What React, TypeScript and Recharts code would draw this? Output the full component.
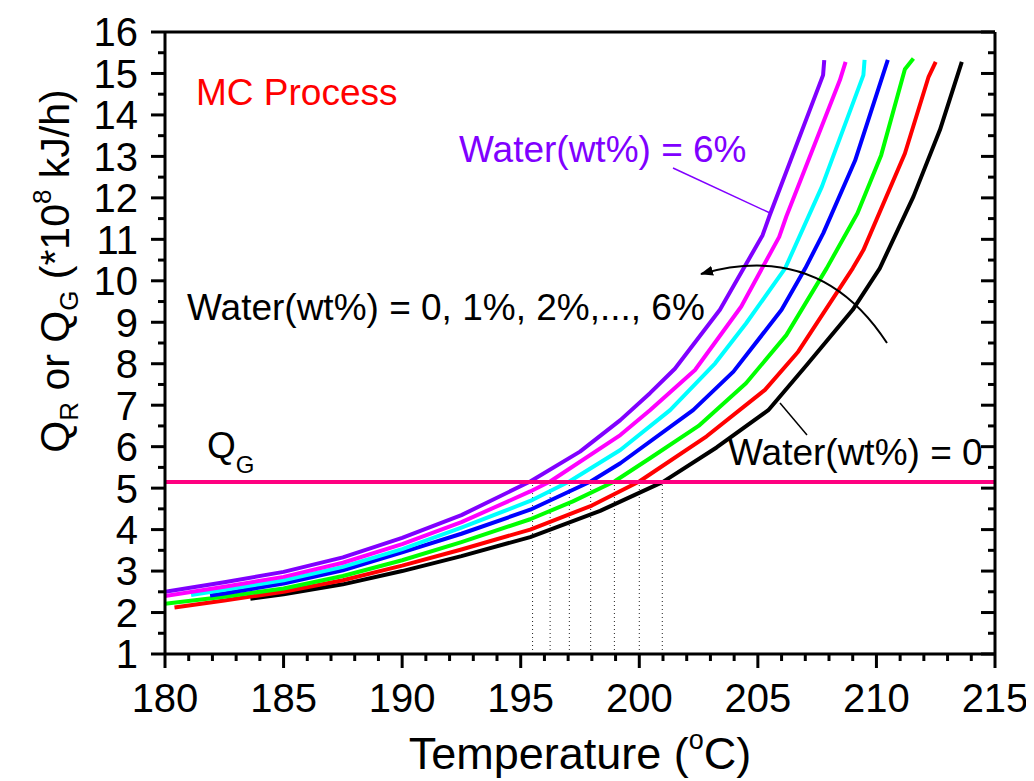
import React from "react";
import { LineChart, Line, XAxis, YAxis, ReferenceLine } from "recharts";

const FONT = "'Liberation Sans', Arial, sans-serif";

// Q_R curves, temperature (°C) vs Q (*1e8 kJ/h), one per water content
const T_W0 = [183.6, 185, 187.5, 190, 192.5, 195.4, 198.35, 201.0, 203.26, 205.44, 207.06, 209.0, 210.14, 211.56, 212.68, 213.6];
const Q_W0 = [2.33, 2.44, 2.68, 3.0, 3.36, 3.82, 4.45, 5.15, 5.98, 6.88, 7.97, 9.3, 10.3, 12.03, 13.64, 15.28];
const T_W1 = [180.4, 182.5, 185, 187.5, 190, 192.5, 195.4, 198.0, 200.0, 202.84, 205.3, 206.7, 209.0, 209.45, 211.2, 212.2, 212.5];
const Q_W1 = [2.12, 2.29, 2.5, 2.78, 3.13, 3.52, 4.0, 4.58, 5.16, 6.25, 7.37, 8.29, 10.3, 10.74, 13.07, 14.92, 15.28];
const T_W2 = [180, 182.5, 185, 187.5, 190, 192.5, 195.4, 197.2, 198.95, 200.45, 202.5, 204.5, 206.2, 207.9, 209.2, 210.2, 211.2, 211.56];
const Q_W2 = [2.21, 2.38, 2.58, 2.88, 3.26, 3.7, 4.25, 4.68, 5.16, 5.72, 6.5, 7.53, 8.69, 10.3, 11.63, 13.03, 15.1, 15.36];
const T_W3 = [181.9, 182.5, 185, 187.5, 190, 192.5, 195.4, 197.95, 199.2, 202.27, 203.97, 206.0, 207.0, 207.76, 209.1, 210.48];
const Q_W3 = [2.41, 2.46, 2.7, 3.02, 3.45, 3.9, 4.48, 5.16, 5.6, 6.88, 7.81, 9.3, 10.3, 11.15, 12.9, 15.33];
const T_W4 = [181.1, 182.5, 185, 187.5, 190, 192.5, 195.4, 197.05, 199.2, 201.3, 203.2, 204.5, 206.15, 207.7, 209.45, 209.5];
const Q_W4 = [2.42, 2.55, 2.78, 3.1, 3.53, 4.05, 4.69, 5.16, 5.92, 6.88, 8.01, 8.97, 10.3, 12.27, 14.96, 15.33];
const T_W5 = [180, 182.5, 185, 187.5, 190, 192.5, 195.4, 196.24, 199.2, 200.45, 202.35, 204.3, 205.9, 206.2, 208.46, 208.7];
const Q_W5 = [2.4, 2.62, 2.86, 3.2, 3.65, 4.18, 4.92, 5.16, 6.28, 6.88, 7.85, 9.38, 11.06, 11.55, 14.84, 15.28];
const T_W6 = [180, 182.5, 185, 187.5, 190, 192.5, 195.4, 197.5, 199.2, 200.45, 201.5, 203.4, 205.2, 205.5, 207.75, 207.8];
const Q_W6 = [2.5, 2.73, 2.98, 3.33, 3.8, 4.35, 5.16, 5.88, 6.64, 7.29, 7.88, 9.3, 11.1, 11.58, 14.96, 15.32];

const QG = 5.15; // heat removal line
const CROSS_T = [195.5, 196.24, 197.05, 197.95, 198.95, 200.0, 200.97]; // where Q_R meets Q_G

const X_LABELS = [180, 185, 190, 195, 200, 205, 210, 215];
const Y_LABELS = [1, 2, 3, 4, 5, 6, 7, 8, 9, 10, 11, 12, 13, 14, 15, 16];
const X_TICKS = Array.from({ length: 36 }, (_, i) => 180 + i);
const Y_TICKS = Array.from({ length: 31 }, (_, i) => 1 + i * 0.5);

const SERIES = [
  { name: "0", t: T_W0, q: Q_W0, color: "#000000" },
  { name: "1%", t: T_W1, q: Q_W1, color: "#ff0000" },
  { name: "2%", t: T_W2, q: Q_W2, color: "#00ff00" },
  { name: "3%", t: T_W3, q: Q_W3, color: "#0000ff" },
  { name: "4%", t: T_W4, q: Q_W4, color: "#00ffff" },
  { name: "5%", t: T_W5, q: Q_W5, color: "#ff00ff" },
  { name: "6%", t: T_W6, q: Q_W6, color: "#8000ff" },
];

const MAJ = 14;
const MIN = 7;

function BottomTick(props: any) {
  const { x, y, payload } = props;
  const major = X_LABELS.includes(payload.value);
  return (
    <g>
      <line x1={x} x2={x} y1={y} y2={y + (major ? MAJ : MIN)} stroke="#000" strokeWidth={3} />
      {major && (
        <text x={x} y={y + 58} textAnchor="middle" fontSize={40} fontFamily={FONT} fill="#000">
          {payload.value}
        </text>
      )}
    </g>
  );
}

function TopTick(props: any) {
  const { x, y, payload } = props;
  const major = X_LABELS.includes(payload.value);
  return <line x1={x} x2={x} y1={y} y2={y + (major ? MAJ : MIN)} stroke="#000" strokeWidth={3} />;
}

function LeftTick(props: any) {
  const { x, y, payload } = props;
  const major = Y_LABELS.includes(payload.value);
  return (
    <g>
      <line x1={x - (major ? MAJ : MIN)} x2={x} y1={y} y2={y} stroke="#000" strokeWidth={3} />
      {major && (
        <text x={x - 27} y={y} dy="0.36em" textAnchor="end" fontSize={40} fontFamily={FONT} fill="#000">
          {payload.value}
        </text>
      )}
    </g>
  );
}

function RightTick(props: any) {
  const { x, y, payload } = props;
  const major = Y_LABELS.includes(payload.value);
  return <line x1={x - (major ? MAJ : MIN)} x2={x} y1={y} y2={y} stroke="#000" strokeWidth={3} />;
}

const AXIS_LINE = { stroke: "#000", strokeWidth: 3 };

export default function App() {
  return (
    <div style={{ position: "relative", width: 1026, height: 773 }}>
      <LineChart width={1026} height={773} margin={{ top: 14, right: 29, bottom: 67, left: 97 }}>
        <XAxis
          xAxisId="bottom"
          type="number"
          dataKey="t"
          domain={[180, 215]}
          ticks={X_TICKS}
          interval={0}
          height={60}
          tickSize={0}
          tickMargin={0}
          tickLine={false}
          axisLine={AXIS_LINE}
          tick={<BottomTick />}
          allowDataOverflow
        />
        <XAxis
          xAxisId="top"
          orientation="top"
          type="number"
          domain={[180, 215]}
          ticks={X_TICKS}
          interval={0}
          height={10}
          tickSize={0}
          tickMargin={0}
          tickLine={false}
          axisLine={AXIS_LINE}
          tick={<TopTick />}
          allowDataOverflow
        />
        <YAxis
          yAxisId="left"
          type="number"
          domain={[1, 16]}
          ticks={Y_TICKS}
          interval={0}
          width={60}
          tickSize={0}
          tickMargin={0}
          tickLine={false}
          axisLine={AXIS_LINE}
          tick={<LeftTick />}
          allowDataOverflow
        />
        <YAxis
          yAxisId="right"
          orientation="right"
          type="number"
          domain={[1, 16]}
          ticks={Y_TICKS}
          interval={0}
          width={10}
          tickSize={0}
          tickMargin={0}
          tickLine={false}
          axisLine={AXIS_LINE}
          tick={<RightTick />}
          allowDataOverflow
        />
        {CROSS_T.map((t) => (
          <ReferenceLine
            key={t}
            xAxisId="bottom"
            yAxisId="left"
            segment={[
              { x: t, y: 1 },
              { x: t, y: QG },
            ]}
            stroke="#222"
            strokeWidth={1}
            strokeDasharray="1 3"
          />
        ))}
        {SERIES.map((s) => (
          <Line
            key={s.name}
            xAxisId="bottom"
            yAxisId="left"
            data={s.t.map((t, i) => ({ t, q: s.q[i] }))}
            dataKey="q"
            name={s.name}
            type="linear"
            stroke={s.color}
            strokeWidth={4}
            strokeLinejoin="round"
            dot={false}
            isAnimationActive={false}
          />
        ))}
        <ReferenceLine xAxisId="bottom" yAxisId="left" y={QG} stroke="#ff0080" strokeWidth={4} />
      </LineChart>

      <svg
        width={1026}
        height={773}
        style={{ position: "absolute", left: 0, top: 0, pointerEvents: "none" }}
        fontFamily={FONT}
      >
        <defs>
          <marker id="ah" markerWidth="14" markerHeight="10" refX="12" refY="5" orient="auto" markerUnits="userSpaceOnUse">
            <path d="M0,0 L13,5 L0,10 Z" fill="#000" />
          </marker>
        </defs>
        <text x={188} y={97} fontSize={37} fill="#ff0000">MC Process</text>
        <text x={451} y={154} fontSize={37} fill="#8000ff">Water(wt%) = 6%</text>
        <line x1={665} y1={160} x2={762} y2={205} stroke="#8000ff" strokeWidth={1.5} />
        <text x={179} y={312} fontSize={37} fill="#000">Water(wt%) = 0, 1%, 2%,..., 6%</text>
        <path d="M 879 335 Q 812 232 693 266" fill="none" stroke="#000" strokeWidth={2} markerEnd="url(#ah)" />
        <line x1={772} y1={395} x2={799} y2={427} stroke="#000" strokeWidth={1.5} />
        <text x={720} y={457} fontSize={37} fill="#000">Water(wt%) = 0</text>
        <text x={199} y={450} fontSize={37} fill="#000">
          Q<tspan fontSize={24} dy={15}>G</tspan>
        </text>
        <text x={572} y={761} fontSize={45} textAnchor="middle" fill="#000">
          Temperature (<tspan fontSize={27} dy={-20}>o</tspan>
          <tspan dy={20}>C)</tspan>
        </text>
        <g transform="translate(61,263) rotate(-90)">
          <text x={0} y={0} fontSize={41} textAnchor="middle" fill="#000">
            Q<tspan fontSize={26} dy={9}>R</tspan>
            <tspan dy={-9}> or Q</tspan>
            <tspan fontSize={26} dy={9}>G</tspan>
            <tspan dy={-9}> (*10</tspan>
            <tspan fontSize={26} dy={-18}>8</tspan>
            <tspan dy={18}> kJ/h)</tspan>
          </text>
        </g>
      </svg>
    </div>
  );
}
